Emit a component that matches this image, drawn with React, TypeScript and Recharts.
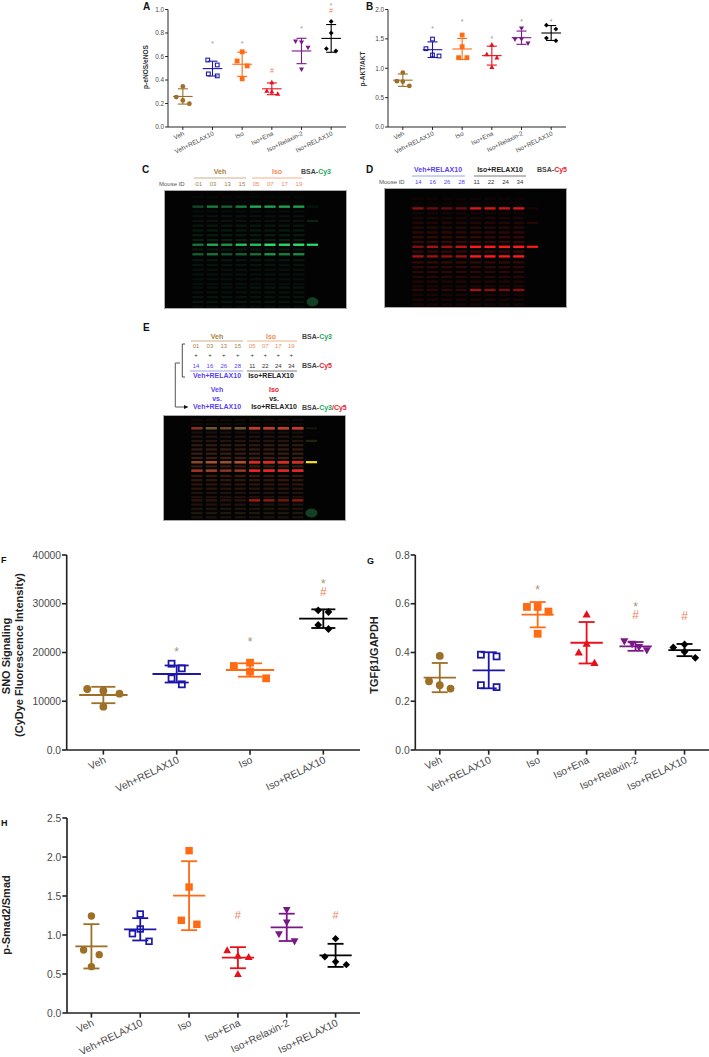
import { ScatterChart, Scatter, XAxis, YAxis, ErrorBar } from "recharts"

const FONT = "'Liberation Sans', Arial, sans-serif"
const BROWN = "#9d6f27"
const BLUE = "#1c16a8"
const ORANGE = "#ff6a13"
const RED = "#e8101c"
const PURPLE = "#7b1788"
const BLACK = "#000000"
const STAR = "#a8946c"
const HASH = "#ee8458"
const AXIS_TEXT = "#4a4a4a"

const sixGroups = ["Veh", "Veh+RELAX10", "Iso", "Iso+Ena", "Iso+Relaxin-2", "Iso+RELAX10"]
const fourGroups = ["Veh", "Veh+RELAX10", "Iso", "Iso+RELAX10"]
const sixColors = [BROWN, BLUE, ORANGE, RED, PURPLE, BLACK]
const fourColors = [BROWN, BLUE, ORANGE, BLACK]
const sixKinds = ["circle", "open", "square", "up", "down", "diamond"]
const fourKinds = ["circle", "open", "square", "diamond"]

// panel A
const aValues = [
  [0.345, 0.255, 0.226, 0.198],
  [0.57, 0.528, 0.452, 0.435],
  [0.64, 0.562, 0.52, 0.41],
  [0.38, 0.308, 0.302, 0.282],
  [0.729, 0.72, 0.675, 0.49],
  [0.898, 0.8, 0.667, 0.647],
]
const aJitter = [
  [0, -0.22, 0, 0.22],
  [-0.16, 0.16, -0.14, 0.16],
  [0, -0.17, 0.17, 0],
  [0, -0.17, 0, 0.2],
  [-0.2, 0, 0.22, 0],
  [0, 0, -0.16, 0.16],
]
const aMeans = [0.26, 0.497, 0.534, 0.325, 0.647, 0.754]
const aSds = [0.065, 0.063, 0.103, 0.05, 0.108, 0.118]
const aMarks = [
  { x: 2, y: 0.726, t: "*" },
  { x: 3, y: 0.726, t: "*" },
  { x: 4, y: 0.48, t: "#" },
  { x: 5, y: 0.853, t: "*" },
]

// panel B
const bValues = [
  [0.927, 0.78, 0.774, 0.7],
  [1.497, 1.333, 1.226, 1.209],
  [1.565, 1.367, 1.18, 1.18],
  [1.4, 1.237, 1.18, 1.02],
  [1.678, 1.497, 1.49, 1.424],
  [1.734, 1.667, 1.514, 1.469],
]
const bJitter = [
  [0, -0.2, 0, 0.22],
  [0, -0.22, 0, 0.22],
  [0, 0, -0.12, 0.16],
  [0, -0.17, 0.17, 0],
  [0, 0, -0.22, 0.22],
  [-0.16, 0.16, -0.16, 0.16],
]
const bMeans = [0.797, 1.316, 1.328, 1.215, 1.52, 1.6]
const bSds = [0.105, 0.133, 0.179, 0.161, 0.113, 0.127]
const bMarks = [
  { x: 2, y: 1.695, t: "*" },
  { x: 3, y: 1.82, t: "*" },
  { x: 4, y: 1.537, t: "*" },
  { x: 5, y: 1.83, t: "*" },
  { x: 6, y: 1.83, t: "*" },
]

// panel F
const fValues = [
  [12510, 12170, 11560, 8890],
  [17700, 16750, 14700, 13470],
  [17230, 17910, 16070, 14700],
  [28650, 28310, 25640, 24820],
]
const fJitter = [
  [-0.22, 0, 0.22, 0],
  [-0.07, 0.07, -0.07, 0.07],
  [-0.22, 0, 0, 0.22],
  [-0.07, 0.07, -0.07, 0.07],
]
const fMeans = [11280, 15590, 16410, 26940]
const fSds = [1680, 1750, 1370, 1915]
const fMarks = [
  { x: 2, y: 20720, t: "*" },
  { x: 3, y: 22770, t: "*" },
  { x: 4, y: 34730, t: "*" },
  { x: 4, y: 32480, t: "#" },
]

// panel G
const gValues = [
  [0.386, 0.282, 0.266, 0.252],
  [0.391, 0.384, 0.266, 0.258],
  [0.587, 0.587, 0.568, 0.477],
  [0.556, 0.436, 0.4, 0.357],
  [0.446, 0.435, 0.422, 0.409],
  [0.421, 0.433, 0.403, 0.378],
]
const gJitter = [
  [0, -0.22, 0, 0.22],
  [-0.16, 0.16, -0.16, 0.16],
  [-0.22, 0, 0.22, 0],
  [0, 0, -0.16, 0.16],
  [-0.23, -0.07, 0.07, 0.23],
  [-0.23, 0, 0, 0.22],
]
const gMeans = [0.297, 0.327, 0.555, 0.44, 0.425, 0.41]
const gSds = [0.06, 0.074, 0.052, 0.085, 0.018, 0.025]
const gMarks = [
  { x: 3, y: 0.668, t: "*" },
  { x: 5, y: 0.597, t: "*" },
  { x: 5, y: 0.555, t: "#" },
  { x: 6, y: 0.55, t: "#" },
]

// panel H
const hValues = [
  [1.244, 0.808, 0.748, 0.594],
  [1.269, 1.077, 1.017, 0.919],
  [2.081, 1.615, 1.188, 1.137],
  [0.803, 0.735, 0.718, 0.5],
  [1.32, 1.162, 1.009, 0.919],
  [0.953, 0.722, 0.658, 0.62],
]
const hJitter = [
  [0, -0.16, 0.16, 0],
  [0, 0, -0.16, 0.18],
  [0, 0, -0.16, 0.16],
  [-0.22, 0, 0.22, 0],
  [0, 0, -0.16, 0.16],
  [0, -0.22, 0, 0.22],
]
const hMeans = [0.855, 1.073, 1.504, 0.709, 1.098, 0.739]
const hSds = [0.284, 0.143, 0.442, 0.135, 0.175, 0.148]
const hMarks = [
  { x: 4, y: 1.256, t: "#" },
  { x: 6, y: 1.256, t: "#" },
]

// blots: lanes 1-8 are samples, 8.95 is the BSA lane
const blotLanes = [1, 2, 3, 4, 5, 6, 7, 8]
const mainBands = [14, 46, 54, 82]
const faintBands = [6, 10, 18, 22, 26, 30, 34, 38, 42, 50, 59, 63, 67, 71, 75, 79, 86, 90, 94, 98]
const greenMain = [
  [0.3, 0.55, 0.42, 0.55, 0.75, 0.7, 0.7, 0.7],
  [0.5, 0.75, 0.65, 0.85, 0.85, 1, 0.95, 1],
  [0.4, 0.5, 0.35, 0.42, 0.48, 0.65, 0.55, 0.6],
  [0.06, 0.06, 0.06, 0.06, 0.08, 0.08, 0.08, 0.08],
]
const redMain = [
  [0.55, 0.4, 0.4, 0.4, 0.85, 0.85, 0.8, 0.85],
  [0.5, 0.65, 0.6, 0.75, 1, 1, 1, 1],
  [0.65, 0.6, 0.55, 0.6, 1, 1, 0.95, 1],
  [0.16, 0.16, 0.16, 0.16, 0.65, 0.55, 0.45, 0.55],
]
const faintGreen = [0.03, 0.03, 0.05, 0.07, 0.08, 0.1, 0.11, 0.11, 0.12, 0.1, 0.09, 0.08, 0.07, 0.07, 0.06, 0.06, 0.07, 0.08, 0.09, 0.06]
const faintRed = [0.05, 0.05, 0.08, 0.1, 0.13, 0.16, 0.18, 0.2, 0.2, 0.2, 0.2, 0.18, 0.16, 0.14, 0.12, 0.1, 0.1, 0.1, 0.09, 0.1]
const bsaBands = [
  { x: 8.95, y: 14, v: 0.08 },
  { x: 8.95, y: 26, v: 0.14 },
  { x: 8.95, y: 46, v: 1 },
]
const bsaSmudge = [{ x: 8.95, y: 94, v: 0.38 }]

type Mark = { x: number; y: number; t: string }

function Marker({ cx, cy, kind, color, r }: { cx?: number; cy?: number; kind: string; color: string; r: number }) {
  if (cx == null || cy == null) return null
  if (kind === "circle") return <circle cx={cx} cy={cy} r={r} fill={color} />
  if (kind === "open") {
    const sw = Math.max(1, r * 0.45)
    return <rect x={cx - r + sw / 2} y={cy - r + sw / 2} width={2 * r - sw} height={2 * r - sw} fill="none" stroke={color} strokeWidth={sw} />
  }
  if (kind === "square") return <rect x={cx - r} y={cy - r} width={2 * r} height={2 * r} fill={color} />
  if (kind === "up") return <path d={`M${cx} ${cy - r * 1.1}L${cx + r * 1.05} ${cy + r * 0.8}L${cx - r * 1.05} ${cy + r * 0.8}Z`} fill={color} />
  if (kind === "down") return <path d={`M${cx} ${cy + r * 1.1}L${cx + r * 1.05} ${cy - r * 0.8}L${cx - r * 1.05} ${cy - r * 0.8}Z`} fill={color} />
  return <path d={`M${cx} ${cy - r}L${cx + r} ${cy}L${cx} ${cy + r}L${cx - r} ${cy}Z`} fill={color} />
}

function Panel({
  left,
  top,
  width,
  height,
  marginTop,
  marginRight,
  axisWidth,
  xHeight,
  yMax,
  yTicks,
  groups,
  colors,
  kinds,
  values,
  jitter,
  means,
  sds,
  marks,
  r,
  fontSize,
  stroke,
  cap,
  markSize,
}: {
  left: number
  top: number
  width: number
  height: number
  marginTop: number
  marginRight: number
  axisWidth: number
  xHeight: number
  yMax: number
  yTicks: number[]
  groups: string[]
  colors: string[]
  kinds: string[]
  values: number[][]
  jitter: number[][]
  means: number[]
  sds: number[]
  marks: Mark[]
  r: number
  fontSize: number
  stroke: number
  cap: number
  markSize: number
}) {
  const ticks = groups.map((_, i) => i + 1)
  return (
    <div style={{ position: "absolute", left, top }}>
      <ScatterChart width={width} height={height} margin={{ top: marginTop, right: marginRight, bottom: 0, left: 0 }} style={{ fontFamily: FONT }}>
        <XAxis
          type="number"
          dataKey="x"
          domain={[0.5, groups.length + 0.5]}
          allowDataOverflow
          ticks={ticks}
          tickFormatter={(v: number) => groups[v - 1]}
          interval={0}
          height={xHeight}
          angle={-26}
          textAnchor="end"
          tick={{ fontSize, fill: AXIS_TEXT }}
          stroke="#222"
          strokeWidth={stroke * 0.9}
          tickSize={fontSize * 0.45}
          tickMargin={1}
        />
        <YAxis
          type="number"
          dataKey="y"
          domain={[0, yMax]}
          allowDataOverflow
          ticks={yTicks}
          interval={0}
          width={axisWidth}
          tickFormatter={(v: number) => (v === 0 ? "0.0" : yMax < 10 ? v.toFixed(1) : String(v))}
          tick={{ fontSize, fill: AXIS_TEXT }}
          stroke="#222"
          strokeWidth={stroke * 0.9}
          tickSize={fontSize * 0.45}
          tickMargin={1}
        />
        {means.map((m, i) => (
          <Scatter
            key={`sd-${i}`}
            data={[{ x: i + 1, y: m, sd: sds[i], half: 0.33 }]}
            shape={() => <g />}
            isAnimationActive={false}
          >
            <ErrorBar dataKey="sd" direction="y" width={cap} stroke={colors[i]} strokeWidth={stroke} isAnimationActive={false} />
            <ErrorBar dataKey="half" direction="x" width={0} stroke={colors[i]} strokeWidth={stroke} isAnimationActive={false} />
          </Scatter>
        ))}
        {values.map((vals, i) => (
          <Scatter
            key={`pts-${i}`}
            data={vals.map((y, j) => ({ x: i + 1 + jitter[i][j], y }))}
            shape={(p: any) => <Marker cx={p.cx} cy={p.cy} kind={kinds[i]} color={colors[i]} r={r} />}
            isAnimationActive={false}
          />
        ))}
        <Scatter
          data={marks}
          isAnimationActive={false}
          shape={(p: any) => (
            <text
              x={p.cx}
              y={p.cy + markSize * (p.payload.t === "*" ? 0.58 : 0.35)}
              textAnchor="middle"
              fontSize={markSize}
              fill={p.payload.t === "*" ? STAR : HASH}
              fontFamily={FONT}
            >
              {p.payload.t}
            </text>
          )}
        />
      </ScatterChart>
    </div>
  )
}

function blotData(main: number[][], faint: number[]) {
  const rows: { x: number; y: number; v: number; main: boolean }[] = []
  main.forEach((levels, b) => levels.forEach((v, l) => rows.push({ x: blotLanes[l], y: mainBands[b], v, main: true })))
  faint.forEach((v, b) => blotLanes.forEach((x) => rows.push({ x, y: faintBands[b], v, main: false })))
  return rows
}

function Blot({
  left,
  top,
  width,
  height,
  yShift,
  layers,
  bsaColor,
  smudge,
}: {
  left: number
  top: number
  width: number
  height: number
  yShift: number
  layers: { color: string; rows: { x: number; y: number; v: number; main?: boolean }[] }[]
  bsaColor: string
  smudge: boolean
}) {
  const bandShape = (color: string) => (p: any) => {
    const h = p.payload.main ? 2.4 : 2.2
    return (
      <rect
        x={p.cx - 5.6}
        y={p.cy - h / 2}
        width={11.2}
        height={h}
        fill={color}
        opacity={p.payload.v}
        style={{ mixBlendMode: "screen" }}
      />
    )
  }
  return (
    <div style={{ position: "absolute", left, top, width, height, background: "#030303", overflow: "hidden", outline: "1px solid #aaa", outlineOffset: -1 }}>
      <div style={{ filter: "blur(0.7px)" }}>
        <ScatterChart width={width} height={height} margin={{ top: 0, right: 0, bottom: 0, left: 0 }}>
          <XAxis type="number" dataKey="x" domain={[-1.36, 11.35]} hide allowDataOverflow />
          <YAxis type="number" dataKey="y" domain={[yShift, 100 + yShift]} reversed hide allowDataOverflow width={0} />
          {layers.map((l, i) => (
            <Scatter key={i} data={l.rows} shape={bandShape(l.color)} isAnimationActive={false} />
          ))}
          <Scatter data={bsaBands} shape={bandShape(bsaColor)} isAnimationActive={false} />
          {smudge && (
            <Scatter
              data={bsaSmudge}
              isAnimationActive={false}
              shape={(p: any) => <ellipse cx={p.cx} cy={p.cy} rx={6} ry={4.5} fill="#2fa35a" opacity={p.payload.v} />}
            />
          )}
        </ScatterChart>
      </div>
    </div>
  )
}

const T = ({ x, y, c = "#444", s = 7, b = true, a = "start", children }: any) => (
  <text x={x} y={y} fill={c} fontSize={s} fontWeight={b ? 700 : 400} textAnchor={a}>
    {children}
  </text>
)

const LN = "#c49a6c"
const LO = "#f0a070"
const VIOLET = "#5a3ff0"
const TAN = "#a97d3f"
const SALMON = "#ef8a58"
const GREEN = "#1aa85a"
const CY5 = "#e8202c"

const cIdsVeh = ["01", "03", "13", "15"]
const cIdsIso = ["05", "07", "17", "19"]
const dIdsVeh = ["14", "16", "26", "28"]
const dIdsIso = ["11", "22", "24", "34"]

function Overlay() {
  return (
    <svg width={709} height={1057} style={{ position: "absolute", left: 0, top: 0, fontFamily: FONT, pointerEvents: "none" }}>
      <T x={143} y={10} c="#111" s={10}>A</T>
      <T x={366} y={10} c="#111" s={10}>B</T>
      <T x={142} y={173} c="#111" s={10}>C</T>
      <T x={366} y={173} c="#111" s={10}>D</T>
      <T x={143} y={331} c="#111" s={10}>E</T>
      <T x={1} y={563} c="#111" s={9}>F</T>
      <T x={367} y={564} c="#111" s={9}>G</T>
      <T x={1} y={826} c="#111" s={9}>H</T>

      <text transform="translate(148 67) rotate(-90)" textAnchor="middle" fontSize={6.6} fontWeight={700} fill="#333">p-eNOS/eNOS</text>
      <text transform="translate(365 69) rotate(-90)" textAnchor="middle" fontSize={6.6} fontWeight={700} fill="#333">p-AKT/AKT</text>
      <text transform="translate(9.5 656) rotate(-90)" textAnchor="middle" fontSize={11} fontWeight={700} fill="#222">SNO Signaling</text>
      <text transform="translate(23 655) rotate(-90)" textAnchor="middle" fontSize={11} fontWeight={700} fill="#222">(CyDye Fluorescence Intensity)</text>
      <text transform="translate(378 655) rotate(-90)" textAnchor="middle" fontSize={11} fontWeight={700} fill="#222">TGFβ1/GAPDH</text>
      <text transform="translate(9.5 915) rotate(-90)" textAnchor="middle" fontSize={11} fontWeight={700} fill="#222">p-Smad2/Smad</text>

      <text x={331} y={8} textAnchor="middle" fontSize={6.5} fill={STAR}>*</text>
      <text x={331} y={13} textAnchor="middle" fontSize={7} fill={HASH}>#</text>

      {/* C header */}
      <T x={220} y={174} c={TAN} a="middle">Veh</T>
      <line x1={194} x2={246} y1={178} y2={178} stroke={LN} strokeWidth={0.8} />
      <T x={277} y={174} c={SALMON} a="middle">Iso</T>
      <line x1={252} x2={302} y1={178} y2={178} stroke={LO} strokeWidth={0.8} />
      <T x={301} y={174} s={7}>BSA-<tspan fill={GREEN}>Cy3</tspan></T>
      <T x={159} y={186} s={6} b={false} c="#555">Mouse ID</T>
      {cIdsVeh.map((t, i) => <T key={t} x={198.7 + i * 14.4} y={186} s={6} b={false} c={TAN} a="middle">{t}</T>)}
      {cIdsIso.map((t, i) => <T key={t} x={256 + i * 14.3} y={186} s={6} b={false} c={SALMON} a="middle">{t}</T>)}

      {/* D header */}
      <T x={438} y={172} c={VIOLET} a="middle">Veh+RELAX10</T>
      <line x1={412} x2={465} y1={176} y2={176} stroke="#7f8fd8" strokeWidth={0.8} />
      <T x={500} y={172} c="#222" a="middle">Iso+RELAX10</T>
      <line x1={474} x2={526} y1={176} y2={176} stroke="#555" strokeWidth={0.8} />
      <T x={537} y={172}>BSA-<tspan fill={CY5}>Cy5</tspan></T>
      <T x={379} y={184} s={6} b={false} c="#555">Mouse ID</T>
      {dIdsVeh.map((t, i) => <T key={t} x={418.3 + i * 14.4} y={184} s={6} b={false} c={VIOLET} a="middle">{t}</T>)}
      {dIdsIso.map((t, i) => <T key={t} x={476.7 + i * 14.4} y={184} s={6} b={false} c="#333" a="middle">{t}</T>)}

      {/* E header */}
      <T x={217} y={339} c={TAN} a="middle">Veh</T>
      <line x1={191} x2={243} y1={341} y2={341} stroke={LN} strokeWidth={0.8} />
      <T x={271} y={339} c={SALMON} a="middle">Iso</T>
      <line x1={247} x2={297} y1={341} y2={341} stroke={LO} strokeWidth={0.8} />
      <T x={302} y={339}>BSA-<tspan fill={GREEN}>Cy3</tspan></T>
      {cIdsVeh.map((t, i) => <T key={t} x={196 + i * 13.9} y={348} s={6} b={false} c={TAN} a="middle">{t}</T>)}
      {cIdsIso.map((t, i) => <T key={t} x={252.3 + i * 13} y={348} s={6} b={false} c={SALMON} a="middle">{t}</T>)}
      {[196, 209.9, 223.8, 237.7, 252.3, 265.3, 278.3, 291.3].map((x) => <T key={x} x={x} y={357} s={6} b={false} c="#333" a="middle">+</T>)}
      {dIdsVeh.map((t, i) => <T key={t} x={196 + i * 13.9} y={368} s={6} b={false} c={VIOLET} a="middle">{t}</T>)}
      {dIdsIso.map((t, i) => <T key={t} x={252.3 + i * 13} y={368} s={6} b={false} c="#333" a="middle">{t}</T>)}
      <T x={302} y={368}>BSA-<tspan fill={CY5}>Cy5</tspan></T>
      <line x1={190} x2={243} y1={371} y2={371} stroke="#7f8fd8" strokeWidth={0.8} />
      <line x1={247} x2={297} y1={371} y2={371} stroke="#555" strokeWidth={0.8} />
      <T x={217} y={378} c={VIOLET} a="middle">Veh+RELAX10</T>
      <T x={271} y={378} c="#222" a="middle">Iso+RELAX10</T>
      <T x={217} y={392} c={VIOLET} a="middle">Veh</T>
      <T x={274} y={392} c={CY5} a="middle">Iso</T>
      <T x={217} y={400.5} c={VIOLET} a="middle">vs.</T>
      <T x={274} y={400.5} c="#222" a="middle">vs.</T>
      <T x={217} y={409} c={VIOLET} a="middle">Veh+RELAX10</T>
      <T x={274} y={409} c="#222" a="middle">Iso+RELAX10</T>
      <T x={302} y={410}>BSA-<tspan fill={GREEN}>Cy3</tspan><tspan fill={CY5}>/Cy5</tspan></T>
      <path d="M185 344H182.3V377H185" fill="none" stroke="#222" strokeWidth={0.8} />
      <path d="M180 363H175.3V407H185" fill="none" stroke="#555" strokeWidth={1} />
      <path d="M184 405L188.5 407L184 409Z" fill="#111" />
    </svg>
  )
}

export default function App() {
  const green = { color: "#2be06e", rows: blotData(greenMain, faintGreen) }
  const red = { color: "#ff1a1a", rows: blotData(redMain, faintRed) }
  return (
    <div style={{ position: "absolute", left: 0, top: 0, width: 709, height: 1057, overflow: "hidden", background: "#fff" }}>
      <Panel left={100} top={0} width={250} height={170} marginTop={9.5} marginRight={4} axisWidth={68} xHeight={43} yMax={1} yTicks={[0, 0.2, 0.4, 0.6, 0.8, 1]} groups={sixGroups} colors={sixColors} kinds={sixKinds} values={aValues} jitter={aJitter} means={aMeans} sds={aSds} marks={aMarks} r={2.4} fontSize={6.4} stroke={1.1} cap={5} markSize={7} />
      <Panel left={320} top={0} width={250} height={170} marginTop={9.5} marginRight={4} axisWidth={68} xHeight={43} yMax={2} yTicks={[0, 0.5, 1, 1.5, 2]} groups={sixGroups} colors={sixColors} kinds={sixKinds} values={bValues} jitter={bJitter} means={bMeans} sds={bSds} marks={bMarks} r={2.4} fontSize={6.4} stroke={1.1} cap={5} markSize={7} />
      <Panel left={0} top={540} width={364} height={265} marginTop={15} marginRight={4} axisWidth={66.7} xHeight={55} yMax={40000} yTicks={[0, 10000, 20000, 30000, 40000]} groups={fourGroups} colors={fourColors} kinds={fourKinds} values={fValues} jitter={fJitter} means={fMeans} sds={fSds} marks={fMarks} r={3.9} fontSize={10.3} stroke={1.8} cap={12} markSize={12} />
      <Panel left={345} top={540} width={364} height={265} marginTop={15} marginRight={0} axisWidth={70.3} xHeight={55} yMax={0.8} yTicks={[0, 0.2, 0.4, 0.6, 0.8]} groups={sixGroups} colors={sixColors} kinds={sixKinds} values={gValues} jitter={gJitter} means={gMeans} sds={gSds} marks={gMarks} r={3.9} fontSize={10.3} stroke={1.8} cap={8} markSize={12} />
      <Panel left={0} top={803} width={364} height={254} marginTop={15} marginRight={4} axisWidth={67} xHeight={44} yMax={2.5} yTicks={[0, 0.5, 1, 1.5, 2, 2.5]} groups={sixGroups} colors={sixColors} kinds={sixKinds} values={hValues} jitter={hJitter} means={hMeans} sds={hSds} marks={hMarks} r={3.7} fontSize={10.3} stroke={1.8} cap={8} markSize={11} />
      <Blot left={164} top={190} width={183} height={119} yShift={0} layers={[green]} bsaColor="#2be06e" smudge />
      <Blot left={384} top={188} width={183} height={120} yShift={-3} layers={[red]} bsaColor="#ff1a1a" smudge={false} />
      <Blot left={163} top={415} width={183} height={106} yShift={1.5} layers={[green, red]} bsaColor="#f3e020" smudge />
      <Overlay />
    </div>
  )
}
